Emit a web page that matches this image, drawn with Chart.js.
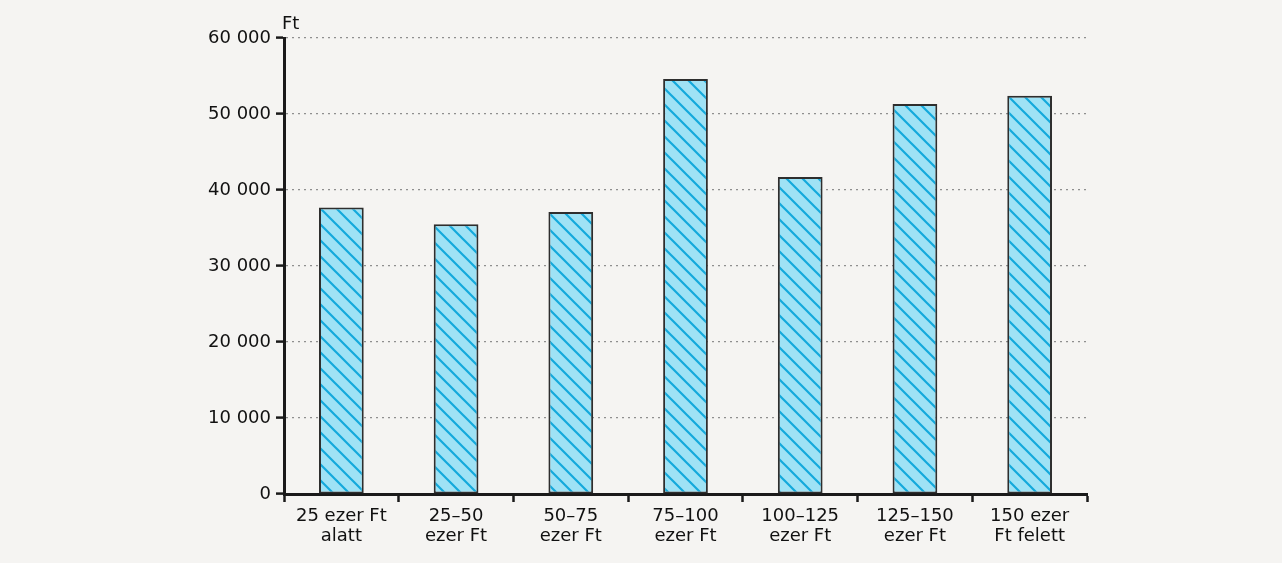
<!DOCTYPE html>
<html>
<head>
<meta charset="utf-8">
<script src="https://cdn.jsdelivr.net/npm/chart.js@4.4.1/dist/chart.umd.min.js"></script>
<style>
  html, body { margin: 0; padding: 0; background: #f5f4f2; }
  #wrap { width: 1282px; height: 563px; }
</style>
</head>
<body>
<div id="wrap"><canvas id="chart" width="1282" height="563"></canvas></div>
<script>
// kategóriák (jövedelemsávok)
const kategoriak = [
    ['25 ezer Ft', 'alatt'],
    ['25\u201350', 'ezer Ft'],
    ['50\u201375', 'ezer Ft'],
    ['75\u2013100', 'ezer Ft'],
    ['100\u2013125', 'ezer Ft'],
    ['125\u2013150', 'ezer Ft'],
    ['150 ezer', 'Ft felett']
];
const ertekek = [37700, 35500, 37100, 54600, 41700, 51300, 52400];
const yTickek = [0, 10000, 20000, 30000, 40000, 50000, 60000];
const egyseg = 'Ft';

// csíkos kitöltés
function csikosMinta() {
    const c = document.createElement('canvas');
    c.width = 16; c.height = 16;
    const g = c.getContext('2d');
    g.fillStyle = '#9fe2f5';
    g.fillRect(0, 0, 16, 16);
    g.strokeStyle = '#14a9dc';
    g.lineWidth = 2.2;
    g.beginPath();
    g.moveTo(-4, -4); g.lineTo(20, 20);
    g.moveTo(-4, 12); g.lineTo(4, 20);
    g.moveTo(12, -4); g.lineTo(20, 4);
    g.stroke();
    return g.createPattern(c, 'repeat');
}

const formazo = v => v === 0 ? '0' : String(v).replace(/\B(?=(\d{3})+(?!\d))/g, ' ');

const hatter = {
    id: 'hatter',
    beforeDraw(chart) {
        const ctx = chart.ctx;
        ctx.save();
        ctx.fillStyle = '#f5f4f2';
        ctx.fillRect(0, 0, chart.width, chart.height);
        ctx.restore();
    },
    afterDraw(chart) {
        const ctx = chart.ctx;
        const y = chart.scales.y;
        ctx.save();
        ctx.fillStyle = '#111';
        ctx.font = '18px "DejaVu Sans"';
        ctx.textBaseline = 'alphabetic';
        ctx.textAlign = 'left';
        ctx.fillText(egyseg, y.right - 2, y.top - 9);
        ctx.restore();
    }
};

Chart.defaults.font.family = '"DejaVu Sans", sans-serif';
Chart.defaults.font.size = 18;
Chart.defaults.color = '#111';

new Chart(document.getElementById('chart'), {
    type: 'bar',
    data: {
        labels: kategoriak,
        datasets: [{
            data: ertekek,
            backgroundColor: csikosMinta(),
            borderColor: '#2e2e2e',
            borderWidth: 2,
            borderSkipped: false,
            categoryPercentage: 1,
            barPercentage: 0.39
        }]
    },
    options: {
        responsive: false,
        animation: false,
        layout: { padding: { left: 0, top: 38, right: 195, bottom: 0 } },
        plugins: { legend: { display: false }, tooltip: { enabled: false } },
        scales: {
            x: {
                afterFit: s => { s.height = 69; },
                grid: {
                    offset: true,
                    drawOnChartArea: false,
                    drawTicks: true,
                    tickLength: 8,
                    tickColor: '#1a1a1a',
                    tickWidth: 2.5
                },
                border: { color: '#1a1a1a', width: 3 },
                ticks: {
                    padding: 4,
                    maxRotation: 0,
                    autoSkip: false,
                    font: { size: 18, lineHeight: 1.13 }
                }
            },
            y: {
                min: 0,
                max: 60000,
                afterFit: s => { s.width = 284; },
                afterBuildTicks: s => { s.ticks = yTickek.map(v => ({ value: v })); },
                grid: {
                    color: '#8f8f8f',
                    lineWidth: 1.2,
                    drawTicks: true,
                    tickLength: 8,
                    tickColor: '#1a1a1a',
                    tickWidth: 2.5,
                    tickBorderDash: []
                },
                border: { color: '#1a1a1a', width: 3, dash: [2, 4] },
                ticks: {
                    padding: 5,
                    callback: v => formazo(v),
                    font: { size: 18 }
                }
            }
        }
    },
    plugins: [hatter]
});
</script>
</body>
</html>
